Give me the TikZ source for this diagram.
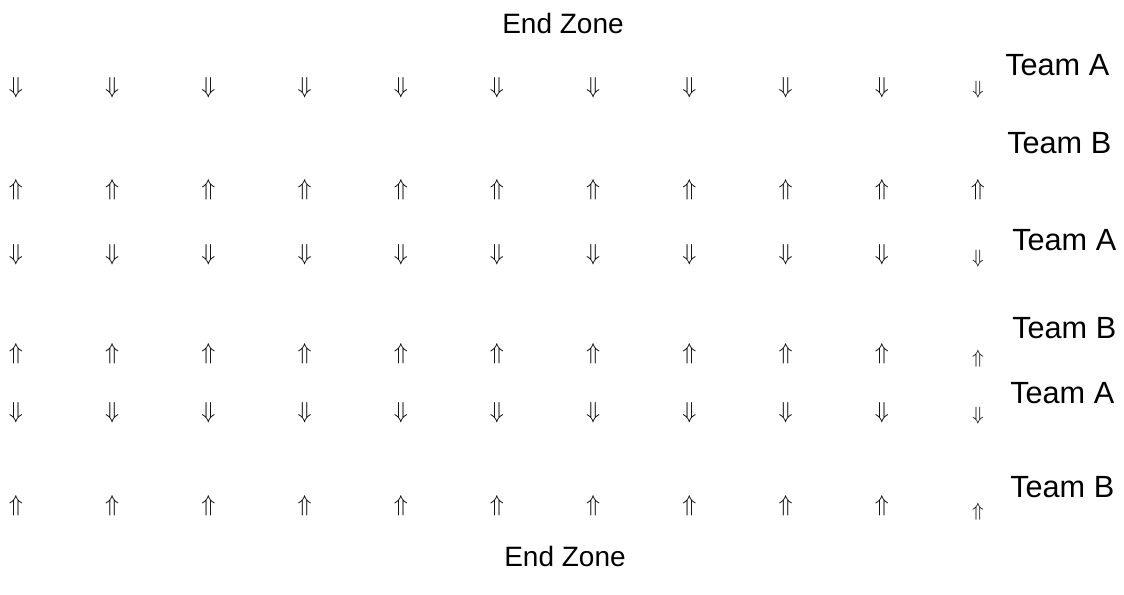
\documentclass[tikz,border=0pt]{standalone}
\usepackage{fontspec}
\setmainfont{Liberation Sans}
\usetikzlibrary{positioning}
\tikzset{
  arrsym/.style={inner sep=0pt, font=\fontsize{17}{17}\selectfont},
  arrlast/.style={inner sep=0pt, anchor=south, font=\fontsize{#1}{#1}\selectfont},
  teamlabel/.style={anchor=base west, inner sep=0pt, font=\fontsize{23}{23}\selectfont},
  zonelabel/.style={anchor=base, inner sep=0pt, font=\fontsize{21}{21}\selectfont}
}

\begin{document}
\begin{tikzpicture}[x=0.75pt, y=-0.75pt]
      \useasboundingbox (0,0) rectangle (1124,594);
      \node[zonelabel] (topzone) at (563,33) {End Zone};
      \node[zonelabel] (botzone) at (565,566) {End Zone};
      % rows of players, A facing down, B facing up
      \foreach \r/\y/\sym/\ls/\lb in {1/88/\Downarrow/14/98, 2/190/\Uparrow/17/200, 3/255/\Downarrow/14/267,
                                      4/354/\Uparrow/15/367, 5/413/\Downarrow/14/424, 6/506/\Uparrow/15/520} {
        \foreach \c in {0,...,9} {
          \node[arrsym] (p\r-\c) at ({16+96.2*\c},\y) {$\sym$};
        }
        \node[arrlast=\ls] (p\r-10) at (978,\lb) {$\sym$};
      }
      \node[teamlabel] (teamA1) at (1005,75) {Team A};
      \node[teamlabel] (teamB1) at (1007,153) {Team B};
      \node[teamlabel] (teamA2) at (1012,250) {Team A};
      \node[teamlabel] (teamB2) at (1012,338) {Team B};
      \node[teamlabel] (teamA3) at (1010,403) {Team A};
      \node[teamlabel] (teamB3) at (1010,497) {Team B};
    \end{tikzpicture}
\end{document}
